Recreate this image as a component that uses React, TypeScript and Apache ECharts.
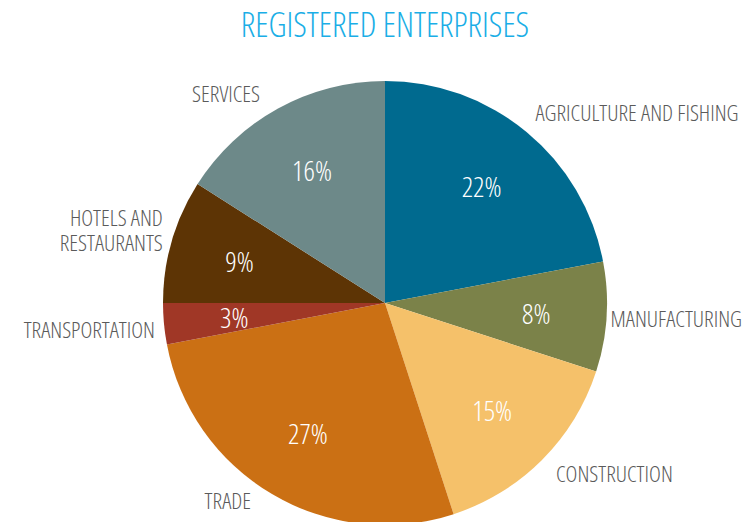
import React, { useEffect, useRef } from "react";
import * as echarts from "echarts";

const categories = [
  "AGRICULTURE AND FISHING",
  "MANUFACTURING",
  "CONSTRUCTION",
  "TRADE",
  "TRANSPORTATION",
  "HOTELS AND\nRESTAURANTS",
  "SERVICES",
];
const values = [22, 8, 15, 27, 3, 9, 16];
const colors = ["#006a8f", "#7b8249", "#f5c16a", "#cb7014", "#a03726", "#5d3405", "#6d8989"];

const FONT = "'Open Sans', sans-serif";

const nudges: [number, number][] = [
  [9, -19],
  [4, 2],
  [14, 14],
  [-21, 6],
  [-9, 6],
  [-9, -11],
  [-18, -15],
];

export default function App() {
  const ref = useRef<HTMLDivElement>(null);
  useEffect(() => {
    const st = document.createElement("style");
    st.textContent = ".cond svg text { font-stretch: 75% !important; }";
    document.head.appendChild(st);
    const chart = echarts.init(ref.current!, null, { renderer: "svg" });
    const data = categories.map((name, i) => ({
      name,
      value: values[i],
      itemStyle: { color: colors[i] },
    }));
    chart.setOption({
      animation: false,
      backgroundColor: "#ffffff",
      title: {
        text: "REGISTERED ENTERPRISES",
        left: 380,
        textAlign: "center",
        top: 2,
        textStyle: { color: "#1aaee6", fontFamily: FONT, fontSize: 34, fontWeight: 300 },
      },
      series: [
        {
          type: "pie",
          center: [385, 303],
          radius: 222,
          startAngle: 90,
          avoidLabelOverlap: false,
          silent: true,
          data,
          label: {
            show: true,
            position: "outside",
            formatter: "{b}",
            color: "#5a5a5a",
            fontFamily: FONT,
            fontSize: 22.5,
            fontWeight: 300,
            lineHeight: 25,
            distanceToLabelLine: 0,
            overflow: "none",
          },
          labelLine: { show: false, length: 0, length2: 0 },
          labelLayout: (p: any) => ({ dx: nudges[p.dataIndex][0], dy: nudges[p.dataIndex][1] }),
        },
        {
          type: "pie",
          center: [385, 303],
          radius: [75, 222],
          startAngle: 90,
          silent: true,
          data: categories.map((name, i) => ({ name, value: values[i] })),
          itemStyle: { color: "rgba(0,0,0,0)" },
          label: {
            show: true,
            position: "inside",
            formatter: "{c}%",
            color: "#ffffff",
            fontFamily: FONT,
            fontSize: 28,
            fontWeight: 300,
          },
          labelLine: { show: false },
        },
      ],
    });
    return () => {
      chart.dispose();
      st.remove();
    };
  }, []);
  return <div ref={ref} className="cond" style={{ position: "fixed", left: 0, top: 0, width: 744, height: 522 }} />;
}
